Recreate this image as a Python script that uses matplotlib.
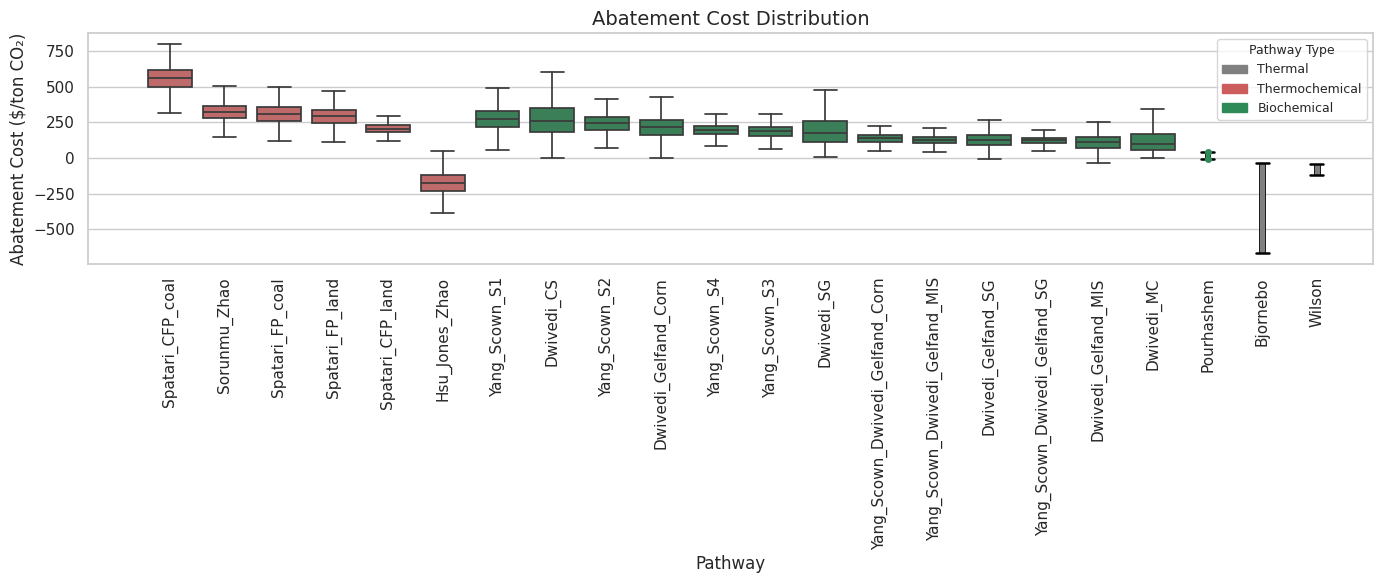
import matplotlib.pyplot as plt
import seaborn as sns
from matplotlib.patches import Patch

pathways = ["Spatari_CFP_coal", "Sorunmu_Zhao", "Spatari_FP_coal", "Spatari_FP_land",
            "Spatari_CFP_land", "Hsu_Jones_Zhao", "Yang_Scown_S1", "Dwivedi_CS",
            "Yang_Scown_S2", "Dwivedi_Gelfand_Corn", "Yang_Scown_S4", "Yang_Scown_S3",
            "Dwivedi_SG", "Yang_Scown_Dwivedi_Gelfand_Corn", "Yang_Scown_Dwivedi_Gelfand_MIS",
            "Dwivedi_Gelfand_SG", "Yang_Scown_Dwivedi_Gelfand_SG", "Dwivedi_Gelfand_MIS",
            "Dwivedi_MC", "Pourhashem", "Bjornebo", "Wilson"]
types = ["Thermochemical"] * 6 + ["Biochemical"] * 14 + ["Thermal"] * 2
whislo = [315, 147, 119, 112, 119, -389, 58, 0, 70, 0, 84, 63, 7, 49, 42, -7, 49, -35, 0, -5, -665, -119]
q1 = [494, 280, 259, 245, 182, -231, 217, 182, 196, 161, 168, 154, 112, 112, 105, 91, 105, 70, 56, -5, -665, -119]
med = [559, 322, 308, 294, 205, -175, 273, 259, 245, 217, 196, 189, 175, 140, 126, 126, 126, 112, 98, 20, -350, -80]
q3 = [615, 364, 357, 336, 231, -119, 331, 350, 287, 266, 224, 217, 259, 161, 147, 161, 140, 147, 168, 45, -35, -42]
whishi = [797, 503, 497, 469, 294, 49, 490, 601, 413, 427, 308, 308, 473, 224, 210, 266, 196, 252, 343, 45, -35, -42]

palette = {"Thermal": "gray", "Thermochemical": "indianred", "Biochemical": "seagreen"}

sns.set_theme(style="whitegrid")
fig, ax = plt.subplots(figsize=(13.83, 5.84), dpi=100)

line_c = "#3a3a3a"
n_box = 19
for i in range(len(pathways)):
    stats = [{"whislo": whislo[i], "q1": q1[i], "med": med[i], "q3": q3[i],
              "whishi": whishi[i], "fliers": []}]
    col = sns.desaturate(palette[types[i]], 0.75)
    if i < n_box:
        ax.bxp(stats, positions=[i], widths=0.8, capwidths=0.42, patch_artist=True,
               showfliers=False,
               boxprops=dict(facecolor=col, edgecolor=line_c, linewidth=1.25),
               whiskerprops=dict(color=line_c, linewidth=1.25),
               capprops=dict(color=line_c, linewidth=1.25),
               medianprops=dict(color=line_c, linewidth=1.25))
    else:
        c = palette[types[i]]
        ax.bxp([dict(stats[0], q1=whislo[i], q3=whishi[i])], positions=[i], widths=0.1,
               capwidths=0.24, patch_artist=True, showfliers=False,
               boxprops=dict(facecolor=c, edgecolor="black", linewidth=0.6),
               whiskerprops=dict(color="black", linewidth=1.2),
               capprops=dict(color="black", linewidth=1.8),
               medianprops=dict(linewidth=0))
        if types[i] == "Biochemical":
            ax.plot([i, i], [whislo[i], whishi[i]], "o", color=c, markersize=4, zorder=3)

ax.set_xticks(range(len(pathways)))
ax.set_xticklabels(pathways, rotation=90, fontsize=11)
ax.tick_params(axis="y", labelsize=11)
ax.set_xlim(-1.5, 22.03)
ax.set_ylim(-743, 876)
ax.set_yticks([-500, -250, 0, 250, 500, 750])
ax.xaxis.grid(False)
ax.set_title("Abatement Cost Distribution", fontsize=14)
ax.set_xlabel("Pathway", fontsize=12)
ax.set_ylabel("Abatement Cost ($/ton CO₂)", fontsize=12)

handles = [Patch(color=palette[k], label=k) for k in ["Thermal", "Thermochemical", "Biochemical"]]
ax.legend(handles=handles, title="Pathway Type", loc="upper right", fontsize=9, title_fontsize=9)

plt.subplots_adjust(left=0.0636, right=0.9928, top=0.9435, bottom=0.548)
plt.savefig("out.png", dpi=100)
